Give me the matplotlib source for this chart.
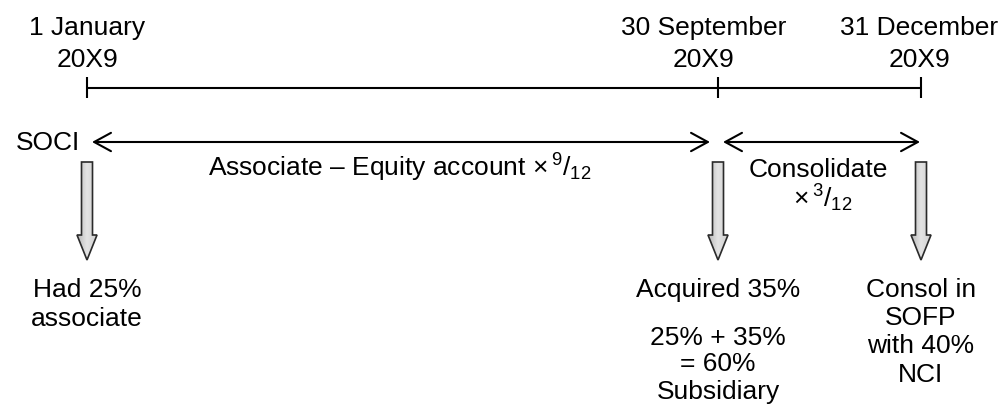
import numpy as np
import matplotlib
matplotlib.use("Agg")
import matplotlib.pyplot as plt
from matplotlib.patches import Polygon

plt.rcParams['font.family'] = ['Liberation Sans', 'DejaVu Sans']
plt.rcParams['mathtext.fontset'] = 'custom'
plt.rcParams['mathtext.rm'] = 'Liberation Sans'
plt.rcParams['mathtext.it'] = 'Liberation Sans'
plt.rcParams['mathtext.bf'] = 'Liberation Sans:bold'

# timeline points (pixel x) and labels
dates_x = [87, 718, 921]
date_label_x = [87, 704, 919]
date_line1 = ['1 January', '30 September', '31 December']
date_line2 = ['20X9', '20X9', '20X9']

# notes under each date
notes = [
    ['Had 25%', 'associate'],
    ['Acquired 35%', '', '25% + 35%', '= 60%', 'Subsidiary'],
    ['Consol in', 'SOFP', 'with 40%', 'NCI'],
]
note_baselines = [
    [297, 326],
    [297, 0, 345, 371, 399],
    [297, 325, 353, 382],
]

FS = 19

fig = plt.figure(figsize=(10.01, 4.12), dpi=100)
ax = fig.add_axes([0, 0, 1, 1])
ax.set_xlim(0, 1001)
ax.set_ylim(412, 0)
ax.axis('off')

# timeline
ax.plot([dates_x[0], dates_x[-1]], [88, 88], color='black', lw=1.5,
        solid_capstyle='butt')
for x in dates_x:
    ax.plot([x, x], [77, 98], color='black', lw=1.5, solid_capstyle='butt')

for x, l1, l2 in zip(date_label_x, date_line1, date_line2):
    ax.text(x, 35, l1, ha='center', va='baseline', fontsize=FS)
    ax.text(x, 67, l2, ha='center', va='baseline', fontsize=FS)

# period arrows
arr = dict(arrowstyle='<->, head_length=0.55, head_width=0.3', lw=1.5,
           color='black', shrinkA=0, shrinkB=0, mutation_scale=22)
ax.annotate('', xy=(92, 142), xytext=(710, 142), arrowprops=arr)
ax.annotate('', xy=(723, 142), xytext=(920, 142), arrowprops=arr)

ax.text(80, 150, 'SOCI', ha='right', va='baseline', fontsize=FS)
ax.text(208, 177, r'Associate – Equity account $\times\,^{9}/_{12}$',
        ha='left', va='baseline', fontsize=FS)
ax.text(818, 177, 'Consolidate', ha='center', va='baseline', fontsize=FS)
ax.text(823, 207, r'$\times\,^{3}/_{12}$', ha='center', va='baseline',
        fontsize=FS)

# block arrows
grad = np.linspace(0, 1, 64).reshape(1, -1)
cmap = matplotlib.colors.LinearSegmentedColormap.from_list(
    'g', ['#b8b8b8', '#e4e4e4', '#d0d0d0'])
for x in dates_x:
    pts = [(x - 5.5, 162), (x + 5.5, 162), (x + 5.5, 235), (x + 10, 235),
           (x, 260), (x - 10, 235), (x - 5.5, 235)]
    poly = Polygon(pts, closed=True, facecolor='none', edgecolor='#2a2a2a',
                   lw=1.2, joinstyle='miter', zorder=3)
    ax.add_patch(poly)
    im = ax.imshow(grad, cmap=cmap, extent=(x - 10, x + 10, 260, 162),
                   aspect='auto', zorder=2)
    im.set_clip_path(poly)

for x, lines, ys in zip(dates_x, notes, note_baselines):
    for t, y in zip(lines, ys):
        if t:
            ax.text(x, y, t, ha='center', va='baseline', fontsize=FS)

ax.set_xlim(0, 1001)
ax.set_ylim(412, 0)
fig.savefig('out.png', dpi=100)
